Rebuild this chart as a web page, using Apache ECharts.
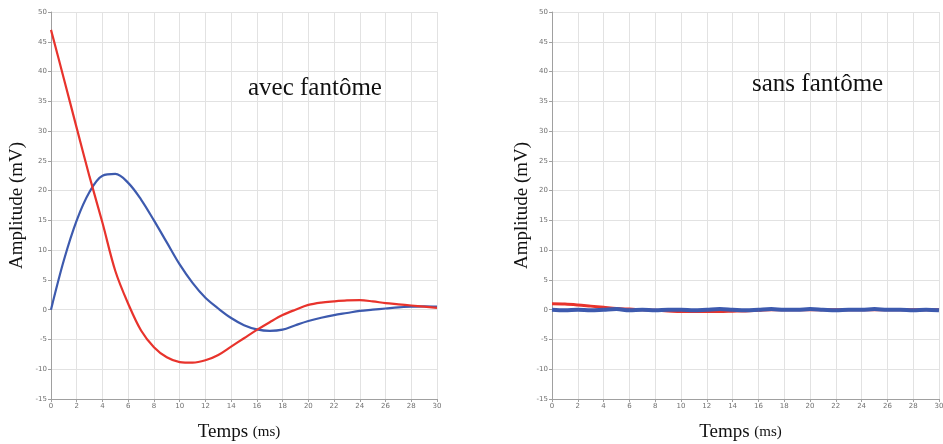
<!DOCTYPE html>
<html>
<head>
<meta charset="utf-8">
<script src="https://cdn.jsdelivr.net/npm/echarts@6/dist/echarts.min.js"></script>
<style>html,body{margin:0;padding:0;background:#fff}#c{width:943px;height:444px}</style>
</head>
<body>
<div id="c"></div>
<script>
var timeMs = [0,1,2,3,4,5,6,7,8,9,10,11,12,13,14,15,16,17,18,19,20,21,22,23,24,25,26,27,28,29,30];
var redWith  = [47,38.8,30.5,22.3,14.6,6.5,1,-3.5,-6.3,-8,-8.8,-8.9,-8.5,-7.6,-6.2,-4.8,-3.4,-2.1,-0.9,0,0.8,1.2,1.4,1.55,1.6,1.4,1.1,0.9,0.7,0.5,0.3];
var blueWith = [0,8.3,15,19.8,22.5,22.8,21.3,18.5,15,11.3,7.6,4.5,2,0.2,-1.4,-2.6,-3.3,-3.55,-3.35,-2.6,-1.9,-1.35,-0.9,-0.55,-0.2,0,0.2,0.4,0.5,0.55,0.5];
var redWithout  = [1,0.95,0.8,0.6,0.4,0.2,0.1,0,-0.1,-0.2,-0.3,-0.3,-0.3,-0.3,-0.25,-0.2,-0.1,0,0,0,0,0,0,0,0,0,0,0,0,0,0];
var blueWithout = [0,-0.1,0,-0.1,0,0.1,-0.1,0,-0.1,0,0,-0.1,0,0.1,0,-0.1,0,0.1,0,0,0.1,0,-0.1,0,0,0.1,0,0,-0.1,0,-0.1];
var xTicks = {min:0, max:30, interval:2};
var yTicks = {min:-15, max:50, interval:5};
var labels = {xName:'Temps', xUnit:'(ms)', yName:'Amplitude (mV)', left:'avec fantôme', right:'sans fantôme'};

function pairs(ys){ return timeMs.map(function(t,i){ return [t, ys[i]]; }); }

var RED = '#e8332c', BLUE = '#3d5aae';
var axisLine = {show:true, onZero:false, lineStyle:{color:'#a0a0a0', width:1}};
var split = {show:true, lineStyle:{color:'#e2e2e2', width:1}};
var tickLbl = {fontSize:7, color:'#707070', fontFamily:'DejaVu Sans'};

function xAxis(idx){
  return {type:'value', gridIndex:idx, min:xTicks.min, max:xTicks.max, interval:xTicks.interval,
    axisLine:axisLine, axisTick:{show:true, length:3, lineStyle:{color:'#a0a0a0'}},
    axisLabel:Object.assign({margin:4}, tickLbl), splitLine:split,
    name:labels.xName+' {u|'+labels.xUnit+'}', nameLocation:'middle', nameGap:24,
    nameTextStyle:{fontFamily:'Liberation Serif', fontSize:19, color:'#111', padding:[0,10,0,0],
      rich:{u:{fontFamily:'Liberation Serif', fontSize:15, color:'#111'}}}};
}
function yAxis(idx){
  return {type:'value', gridIndex:idx, min:yTicks.min, max:yTicks.max, interval:yTicks.interval,
    axisLine:axisLine, axisTick:{show:true, length:3, lineStyle:{color:'#a0a0a0'}},
    axisLabel:Object.assign({margin:4}, tickLbl), splitLine:split,
    name:labels.yName, nameLocation:'middle', nameGap:idx===0 ? 24 : 20, nameRotate:90,
    nameTextStyle:{fontFamily:'Liberation Serif', fontSize:19, color:'#111'}};
}
function line(idx, ys, color, w){
  return {type:'line', xAxisIndex:idx, yAxisIndex:idx, data:pairs(ys), showSymbol:false, smooth:0.35,
    lineStyle:{color:color, width:w}, itemStyle:{color:color}, animation:false, clip:true};
}

var chart = echarts.init(document.getElementById('c'), null, {renderer:'canvas'});
chart.setOption({
  animation:false,
  backgroundColor:'#fff',
  grid:[{left:51, top:12, width:386, bottom:45, containLabel:false, outerBoundsMode:'none'},
        {left:552, top:12, width:387, bottom:45, containLabel:false, outerBoundsMode:'none'}],
  xAxis:[xAxis(0), xAxis(1)],
  yAxis:[yAxis(0), yAxis(1)],
  series:[
    line(0, blueWith, BLUE, 2.2),
    line(0, redWith, RED, 2.2),
    line(1, redWithout, RED, 3),
    line(1, blueWithout, BLUE, 4)
  ],
  graphic:[
    {type:'text', z:100, left:248, top:76, style:{text:labels.left, font:'25px "Liberation Serif"', fill:'#111'}},
    {type:'text', z:100, left:752, top:72, style:{text:labels.right, font:'25px "Liberation Serif"', fill:'#111'}}
  ]
});
</script>
</body>
</html>
